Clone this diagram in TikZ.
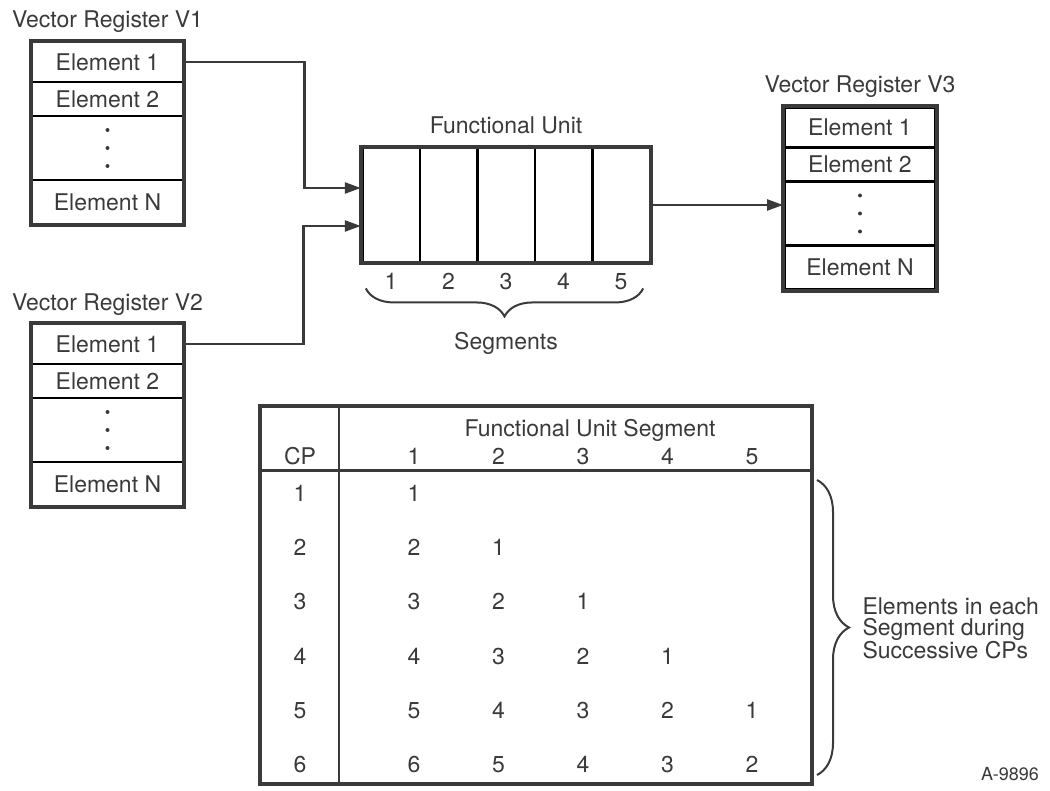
\documentclass[tikz,border=0pt]{standalone}
\usepackage{fontspec}
\setmainfont{TeX Gyre Heros}
\usepackage{tikz}
\usetikzlibrary{arrows.meta,matrix,positioning,decorations.pathreplacing}
\definecolor{ink}{HTML}{3A3A3A}

\begin{document}
\begin{tikzpicture}[x=1pt,y=-1pt,color=ink,font=\fontsize{23}{27}\selectfont,
    reg/.style={matrix of nodes,nodes in empty cells,inner sep=0pt,row sep=-2.5pt,
      nodes={draw,line width=2.5pt,minimum width=151pt,inner sep=2pt},
      row 1/.style={nodes={minimum height=40pt}},
      row 2/.style={nodes={minimum height=34pt}},
      row 3/.style={nodes={minimum height=64pt}},
      row 4/.style={nodes={minimum height=44pt}}},
    outline/.style={line width=4pt},
    link/.style={line width=2.5pt,-{Triangle[length=16pt,width=11pt]}},
    lbl/.style={text height=17pt,text depth=5pt},
    brc/.style={line width=2pt,decorate,decoration={brace,amplitude=#1}}]
  \useasboundingbox (0,0) rectangle (1050,791);

  % registers
  \matrix (V1) [reg] at (107.5,133)
  {
    Element 1\\
    Element 2\\
    \\
    Element N\\
  };
  \matrix (V2) [reg] at (107.5,415)
  {
    Element 1\\
    Element 2\\
    \\
    Element N\\
  };
  \matrix (V3) [reg] at (860,198.5)
  {
    Element 1\\
    Element 2\\
    \\
    Element N\\
  };
  \foreach \r in {V1,V2,V3}{
    \draw[outline] (\r.north west) rectangle (\r.south east);
    \foreach \d in {-18,0,18}
      \fill (\r-3-1.center) ++(0,\d) circle (2pt);
  }
  \node[lbl,above=5pt of V1] (V1name) {Vector Register V1};
  \node[lbl,above=4pt of V2] (V2name) {Vector Register V2};
  \node[lbl,above=5pt of V3] (V3name) {Vector Register V3};

  % functional unit
  \matrix (FU) [matrix of nodes,nodes in empty cells,inner sep=0pt,column sep=-2.5pt,
    nodes={draw,line width=2.5pt,minimum width=57.5pt,minimum height=114pt}] at (506,205)
  {
    & & & & \\
  };
  \draw[outline] (FU.north west) rectangle (FU.south east);
  \node[lbl,above=5pt of FU] (FUname) {Functional Unit};
  \foreach \i in {1,...,5}
    \node[lbl,below=6pt of FU-1-\i] (seg\i) {\i};
  \coordinate (sb1) at ([shift={(5,25)}]FU.south west);
  \coordinate (sb2) at ([shift={(-8,25)}]FU.south east);
  \draw[brc=28pt,decoration={mirror}] (sb1) -- (sb2);
  \node[lbl,below=66pt of FU] (segname) {Segments};

  \draw[link] (V1-1-1.east) -- ++(120,0) |- ([yshift=17pt]FU.west);
  \draw[link] (V2-1-1.east) -- ++(119,0) |- ([yshift=-21pt]FU.west);
  \draw[link] (FU.east) -- (FU.east -| V3.west);

  % table
  \coordinate (tl) at (260,406);
  \coordinate (tr) at (812,406);
  \coordinate (bl) at (260,784);
  \coordinate (br) at (812,784);
  \draw[outline] (tl) rectangle (br);
  \draw[line width=3pt] (260,471) -- (812,471);
  \draw[line width=2.5pt] (339,406) -- (339,784);
  \matrix (TB) [matrix of nodes,inner sep=0pt,
    nodes={minimum width=84.5pt,minimum height=54pt,inner sep=0pt},
    column 1/.style={nodes={minimum width=143.5pt}},
    row 1/.style={nodes={minimum height=20pt}}] at (511.25,619)
  {
    CP & 1 & 2 & 3 & 4 & 5\\
    1 & 1 &   &   &   &  \\
    2 & 2 & 1 &   &   &  \\
    3 & 3 & 2 & 1 &   &  \\
    4 & 4 & 3 & 2 & 1 &  \\
    5 & 5 & 4 & 3 & 2 & 1\\
    6 & 6 & 5 & 4 & 3 & 2\\
  };
  \node (TBname) at (590,430) {Functional Unit Segment};

  \coordinate (rb1) at (817,480);
  \coordinate (rb2) at (817,775);
  \draw[brc=32pt] (rb1) -- (rb2);
  \node[anchor=west,align=left,font=\fontsize{23}{21}\selectfont] (note) at (859,628)
    {Elements in each\\Segment during\\Successive CPs};

  \node[font=\fontsize{18}{20}\selectfont] (figno) at (1010,774) {A-9896};
\end{tikzpicture}
\end{document}
